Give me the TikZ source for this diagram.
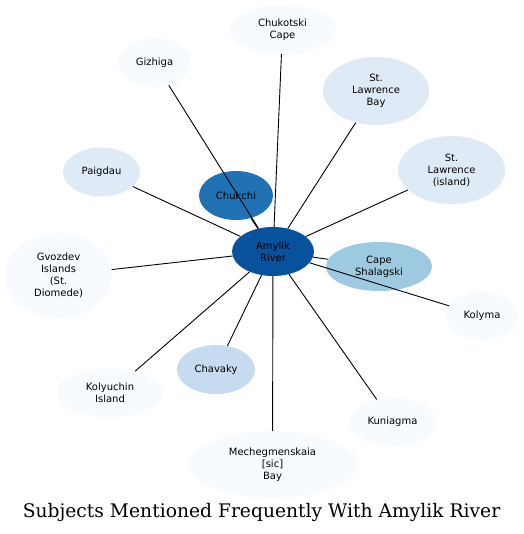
\documentclass[tikz,border=0pt]{standalone}
\usepackage{fontspec}
\setmainfont{DejaVu Sans}
\newfontfamily\titlefont{DejaVu Serif}
\usepackage{tikz}
\usetikzlibrary{shapes.geometric}
\definecolor{BlueA}{HTML}{08519C}
\definecolor{BlueB}{HTML}{2171B5}
\definecolor{BlueC}{HTML}{9ECAE1}
\definecolor{BlueD}{HTML}{C6DBEF}
\definecolor{BlueE}{HTML}{DEEBF7}
\definecolor{BlueF}{HTML}{F7FBFF}
\tikzset{
  subject/.style={ellipse, inner sep=0pt, align=center, font=\fontsize{10}{12}\selectfont, text=black},
  link/.style={draw=black, line width=0.9pt},
  title/.style={font=\titlefont\fontsize{18.7}{22}\selectfont},
}

\begin{document}
\begin{tikzpicture}[x=1pt, y=-1pt]
  \useasboundingbox (0,0) rectangle (523,534);
  % centre
  \node[subject, fill=BlueA, minimum width=82pt, minimum height=49pt] (amylik) at (273,251.5) {Amylik\\River};
  % ring
  \node[subject, fill=BlueB, minimum width=74pt, minimum height=49pt] (chukchi) at (236,195.5) {Chukchi};
  \node[subject, fill=BlueC, minimum width=106pt, minimum height=49pt] (shalagski) at (379,266.5) {Cape\\Shalagski};
  \node[subject, fill=BlueD, minimum width=78pt, minimum height=49pt] (chavaky) at (216,369.5) {Chavaky};
  \node[subject, fill=BlueE, minimum width=106pt, minimum height=68pt] (lawbay) at (376,91) {St.\\Lawrence\\Bay};
  \node[subject, fill=BlueE, minimum width=107pt, minimum height=68pt] (lawisland) at (451.5,170) {St.\\Lawrence\\(island)};
  \node[subject, fill=BlueE, minimum width=77pt, minimum height=49pt] (paigdau) at (101.5,172) {Paigdau};
  \node[subject, fill=BlueF, minimum width=107pt, minimum height=49pt] (chukotski) at (282.5,29.5) {Chukotski\\Cape};
  \node[subject, fill=BlueF, minimum width=73pt, minimum height=49pt] (gizhiga) at (154.5,62.5) {Gizhiga};
  \node[subject, fill=BlueF, minimum width=107pt, minimum height=85pt] (gvozdev) at (58.5,275.5) {Gvozdev\\Islands\\(St.\\Diomede)};
  \node[subject, fill=BlueF, minimum width=106pt, minimum height=49pt] (kolyuchin) at (110,393) {Kolyuchin\\Island};
  \node[subject, fill=BlueF, minimum width=169pt, minimum height=67pt] (mechegmenskaia) at (272.5,464.5) {Mechegmenskaia\\{[sic]}\\Bay};
  \node[subject, fill=BlueF, minimum width=87pt, minimum height=48pt] (kuniagma) at (392.5,422) {Kuniagma};
  \node[subject, fill=BlueF, minimum width=72pt, minimum height=48pt] (kolyma) at (482,316) {Kolyma};
  % links
  \foreach \other in {chukchi, shalagski, chavaky, lawbay, lawisland, paigdau, chukotski,
                      gizhiga, gvozdev, kolyuchin, mechegmenskaia, kuniagma, kolyma}
    \draw[link] (amylik) -- (\other);
  \node[title] (caption) at (261.5,512) {Subjects Mentioned Frequently With Amylik River};
\end{tikzpicture}
\end{document}
